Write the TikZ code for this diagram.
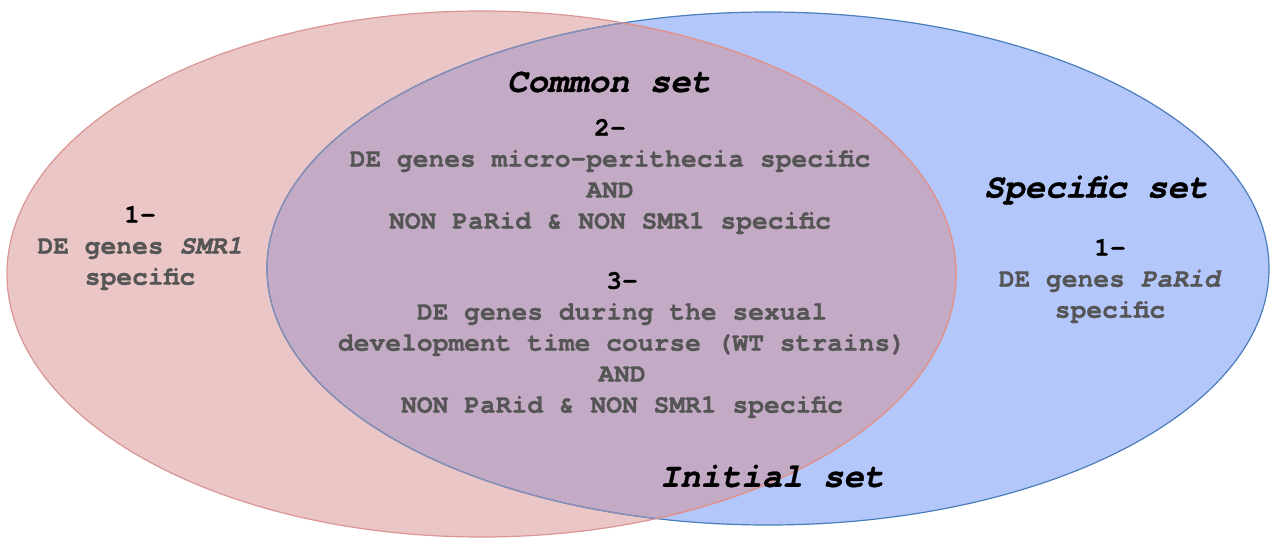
\documentclass[tikz,border=0pt]{standalone}
\usepackage{fontspec}
\setmonofont{texgyrecursor}[Extension=.otf, UprightFont=*-regular, BoldFont=*-bold, ItalicFont=*-italic, BoldItalicFont=*-bolditalic, BoldFeatures={FakeBold=0.8}, BoldItalicFeatures={FakeBold=0.8}]
\begin{document}
\definecolor{redfill}{HTML}{EAC6C6}
\definecolor{bluefill}{HTML}{B4C7FB}
\definecolor{mixfill}{HTML}{C4ABC5}
\definecolor{redline}{HTML}{D99694}
\definecolor{redinner}{HTML}{E0928E}
\definecolor{blueline}{HTML}{4A7EBB}
\definecolor{blueinner}{HTML}{8A8EB5}
\definecolor{txtgray}{HTML}{555555}
\begin{tikzpicture}[x=1pt,y=-1pt,
  body/.style={font=\ttfamily\bfseries\fontsize{26.3}{31}\selectfont, text=txtgray, align=center, inner sep=0pt},
  title/.style={font=\ttfamily\bfseries\itshape\fontsize{34}{38}\selectfont, text=black, inner sep=0pt}]
\useasboundingbox (0,0) rectangle (1273,538);
\def\redell{(481.5,274) ellipse [x radius=474.5, y radius=263]}
\def\blueell{(768,268.5) ellipse [x radius=501, y radius=256.5]}
\fill[bluefill] \blueell;
\fill[redfill] \redell;
\begin{scope}
  \clip \redell;
  \fill[mixfill] \blueell;
\end{scope}
\draw[blueline, line width=1.2pt] \blueell;
\draw[redline, line width=1.2pt] \redell;
\begin{scope}
  \clip \redell;
  \draw[blueinner, line width=1.2pt] \blueell;
\end{scope}
\begin{scope}
  \clip \blueell;
  \draw[redinner, line width=1.2pt] \redell;
\end{scope}

\node[title] (common) at (609,82) {Common set};
\node[title] (specific) at (1096,190) {Specific set};
\node[title] (initial) at (772,476) {Initial set};

\node[body] (left) at (140,248) {\textcolor{black}{1-}\\DE genes \textit{SMR1}\\specific};
\node[body] (right) at (1110,281) {\textcolor{black}{1-}\\DE genes \textit{PaRid}\\specific};
\node[body] (two) at (610,176.5) {\textcolor{black}{2-}\\DE genes micro-perithecia specific\\AND\\NON PaRid \& NON SMR1 specific};
\node[body] (three) at (622,345) {\textcolor{black}{3-}\\DE genes during the sexual\\development time course (WT strains)\\AND\\NON PaRid \& NON SMR1 specific};
\end{tikzpicture}
\end{document}
